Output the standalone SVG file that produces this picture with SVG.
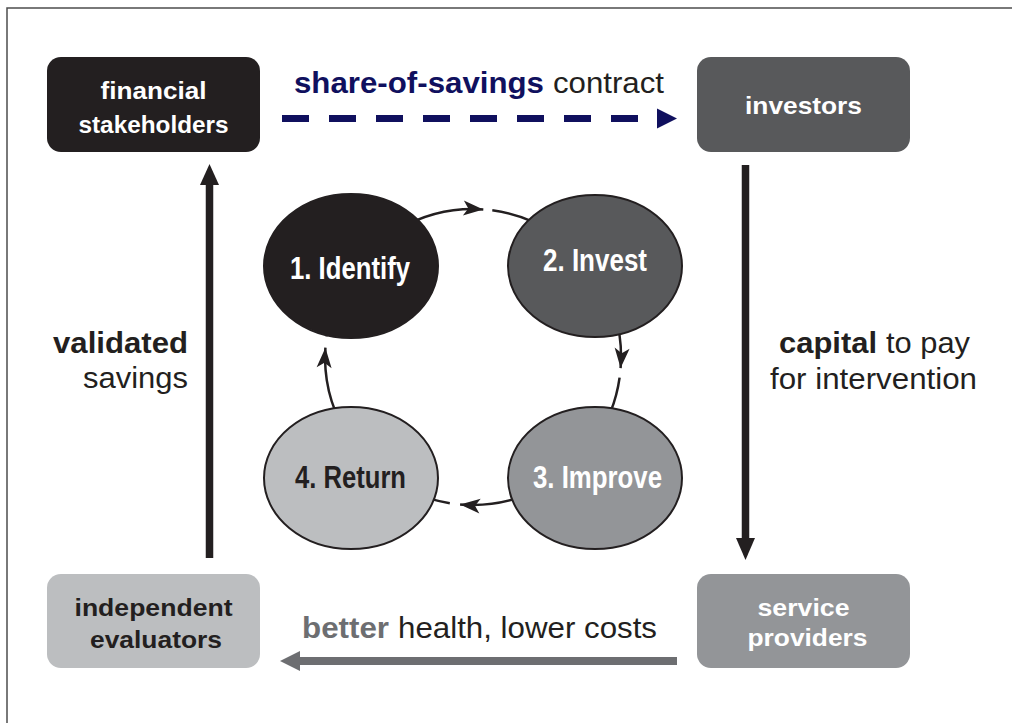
<svg xmlns="http://www.w3.org/2000/svg" width="1012" height="723" viewBox="0 0 1012 723">
<style>
.box text{font-family:"Liberation Sans",Arial,sans-serif;font-weight:bold;font-size:24.5px;text-anchor:middle}
.cir text{font-family:"Liberation Sans",Arial,sans-serif;font-weight:bold;font-size:31px;text-anchor:middle}
.lbl{font-family:"Liberation Sans",Arial,sans-serif;font-size:29.5px;fill:#231f20}
.b{font-weight:bold}
.arc{fill:none;stroke:#231f20;stroke-width:2.5}
.ell{stroke:#231f20;stroke-width:2}
</style>
<defs>
<marker id="ah" markerUnits="userSpaceOnUse" markerWidth="24" markerHeight="18" refX="0" refY="0" viewBox="-22 -9 24 18" orient="auto">
<path d="M0,0 L-20,-7.5 L-15,0 L-20,7.5 Z" fill="#231f20"/>
</marker>
</defs>
<rect width="1012" height="723" fill="#fff"/>
<path d="M7,723 V8 H1012" fill="none" stroke="#4d4d4d" stroke-width="1.5"/>

<g id="connectors">
<path class="arc" d="M399,229 A148,148 0 0 1 483.3,209.4" marker-end="url(#ah)"/>
<path class="arc" d="M492.3,210.3 A148,148 0 0 1 557.9,235.8"/>
<path class="arc" d="M601.2,283 A148,148 0 0 1 620.6,368.1" marker-end="url(#ah)"/>
<path class="arc" d="M619.6,377.6 A148,148 0 0 1 594.2,441.9"/>
<path class="arc" d="M568.1,470.4 A148,148 0 0 1 460.1,504.4" marker-end="url(#ah)"/>
<path class="arc" d="M449.8,503.2 A148,148 0 0 1 377.9,470.4"/>
<path class="arc" d="M344.8,431 A148,148 0 0 1 325.4,347.7" marker-end="url(#ah)"/>
<path class="arc" d="M326.4,336.4 A148,148 0 0 1 344.8,283"/>

<line x1="282" y1="118.5" x2="640" y2="118.5" stroke="#10105e" stroke-width="7" stroke-dasharray="27,20"/>
<polygon points="657,108.5 677,118.5 657,128.5" fill="#10105e"/>

<line x1="209.5" y1="558" x2="209.5" y2="183" stroke="#231f20" stroke-width="7.5"/>
<polygon points="200,185 209.5,164 219,185" fill="#231f20"/>

<line x1="745.5" y1="165" x2="745.5" y2="540" stroke="#231f20" stroke-width="7.5"/>
<polygon points="736,538 745.5,560 755,538" fill="#231f20"/>

<line x1="677" y1="661" x2="298" y2="661" stroke="#6d6e71" stroke-width="8"/>
<polygon points="300,651 280,661 300,671" fill="#6d6e71"/>
</g>

<g id="labels">
<text class="lbl" y="93"><tspan class="b" x="294" fill="#10105e" textLength="250" lengthAdjust="spacingAndGlyphs">share-of-savings</tspan><tspan x="553" textLength="111" lengthAdjust="spacingAndGlyphs">contract</tspan></text>
<text class="lbl" y="353"><tspan class="b" x="53" textLength="135" lengthAdjust="spacingAndGlyphs">validated</tspan></text>
<text class="lbl" y="388"><tspan x="83" textLength="105" lengthAdjust="spacingAndGlyphs">savings</tspan></text>
<text class="lbl" y="353"><tspan class="b" x="779" textLength="98" lengthAdjust="spacingAndGlyphs">capital</tspan><tspan x="886" textLength="84" lengthAdjust="spacingAndGlyphs">to pay</tspan></text>
<text class="lbl" y="389"><tspan x="770" textLength="207" lengthAdjust="spacingAndGlyphs">for intervention</tspan></text>
<text class="lbl" y="638"><tspan class="b" x="302" fill="#6d6e71" textLength="87" lengthAdjust="spacingAndGlyphs">better</tspan><tspan x="398" textLength="259" lengthAdjust="spacingAndGlyphs">health, lower costs</tspan></text>
</g>

<g id="financial-stakeholders" class="box">
<rect x="47" y="57" width="213" height="95" rx="14" fill="#231f20"/>
<text x="153.5" y="99" fill="#fff" textLength="106" lengthAdjust="spacingAndGlyphs">financial</text>
<text x="153.5" y="133" fill="#fff" textLength="150" lengthAdjust="spacingAndGlyphs">stakeholders</text>
</g>
<g id="investors" class="box">
<rect x="697" y="57" width="213" height="95" rx="14" fill="#58595b"/>
<text x="803.5" y="114" fill="#fff" textLength="117" lengthAdjust="spacingAndGlyphs">investors</text>
</g>
<g id="independent-evaluators" class="box">
<rect x="47" y="574" width="213" height="94" rx="14" fill="#bcbec0"/>
<text x="153.5" y="616" fill="#231f20" textLength="158" lengthAdjust="spacingAndGlyphs">independent</text>
<text x="156" y="648" fill="#231f20" textLength="132" lengthAdjust="spacingAndGlyphs">evaluators</text>
</g>
<g id="service-providers" class="box">
<rect x="697" y="574" width="213" height="94" rx="14" fill="#939598"/>
<text x="803.5" y="616" fill="#fff" textLength="92" lengthAdjust="spacingAndGlyphs">service</text>
<text x="807.5" y="646" fill="#fff" textLength="120" lengthAdjust="spacingAndGlyphs">providers</text>
</g>

<g id="identify" class="cir">
<ellipse class="ell" cx="351" cy="266" rx="87" ry="72" fill="#231f20"/>
<text x="350" y="279" fill="#fff" textLength="120" lengthAdjust="spacingAndGlyphs">1. Identify</text>
</g>
<g id="invest" class="cir">
<ellipse class="ell" cx="595" cy="266" rx="87" ry="71" fill="#58595b"/>
<text x="595" y="271" fill="#fff" textLength="104" lengthAdjust="spacingAndGlyphs">2. Invest</text>
</g>
<g id="improve" class="cir">
<ellipse class="ell" cx="595" cy="478" rx="87" ry="71" fill="#939598"/>
<text x="597.5" y="488" fill="#fff" textLength="129" lengthAdjust="spacingAndGlyphs">3. Improve</text>
</g>
<g id="return" class="cir">
<ellipse class="ell" cx="351" cy="478" rx="87" ry="71" fill="#bcbec0"/>
<text x="350.5" y="488" fill="#231f20" textLength="111" lengthAdjust="spacingAndGlyphs">4. Return</text>
</g>
</svg>
